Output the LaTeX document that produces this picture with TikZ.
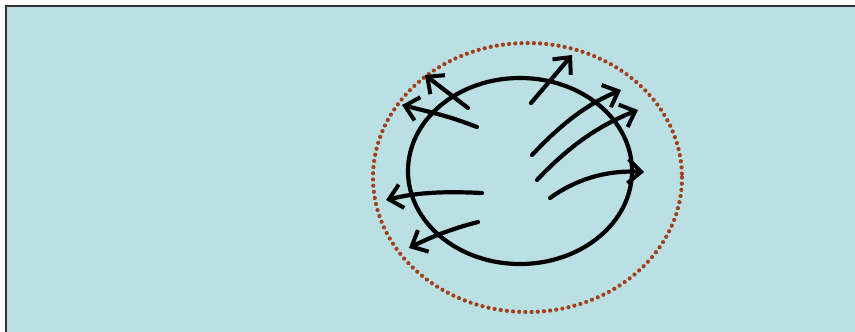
\documentclass[tikz,border=0pt]{standalone}
\usetikzlibrary{arrows.meta}
\definecolor{bgc}{HTML}{BAE0E3}
\definecolor{dotc}{HTML}{A3401C}
\definecolor{framec}{HTML}{333333}
\tikzset{
  flow/.style={line width=4.2pt, line cap=round, -{Straight Barb[length=13pt,width=24pt,line width=4pt]}},
}
\begin{document}
\begin{tikzpicture}[x=1pt,y=-1pt]
\useasboundingbox (0,0) rectangle (855,332);
\fill[white] (0,0) rectangle (855,332);
\fill[bgc] (6,6) rectangle (855,332);
\draw[framec, line width=2pt] (6,340) -- (6,6) -- (860,6);
% ellipses
\draw[dotc, line width=4.2pt, dash pattern=on 0pt off 6.2pt, line cap=round] (527.5,177.5) ellipse [x radius=154.5, y radius=134.5];
\draw[black, line width=4.2pt] (520,171) ellipse [x radius=112, y radius=93];
% arrows
\coordinate (a1s) at (468,108); \coordinate (a1e) at (425,75);
\coordinate (a2s) at (477,127); \coordinate (a2e) at (402,105);
\coordinate (a3s) at (531,103); \coordinate (a3e) at (572,55);
\coordinate (a4s) at (532,155); \coordinate (a4e) at (621,90);
\coordinate (a5s) at (537,180); \coordinate (a5e) at (638,110);
\coordinate (a6s) at (550,198); \coordinate (a6e) at (644,172);
\coordinate (a7s) at (482,193); \coordinate (a7e) at (386,200);
\coordinate (a8s) at (478,222); \coordinate (a8e) at (409,248);
\draw[flow] (a1s) -- (a1e);
\draw[flow] (a2s) .. controls (450,117) .. (a2e);
\draw[flow] (a3s) -- (a3e);
\draw[flow] (a4s) .. controls (565,120) and (590,103) .. (a4e);
\draw[flow] (a5s) .. controls (570,145) and (600,125) .. (a5e);
\draw[flow] (a6s) .. controls (575,180) and (605,170) .. (a6e);
\draw[flow] (a7s) .. controls (440,191) and (415,193) .. (a7e);
\draw[flow] (a8s) .. controls (455,228) and (435,235) .. (a8e);
\end{tikzpicture}
\end{document}
